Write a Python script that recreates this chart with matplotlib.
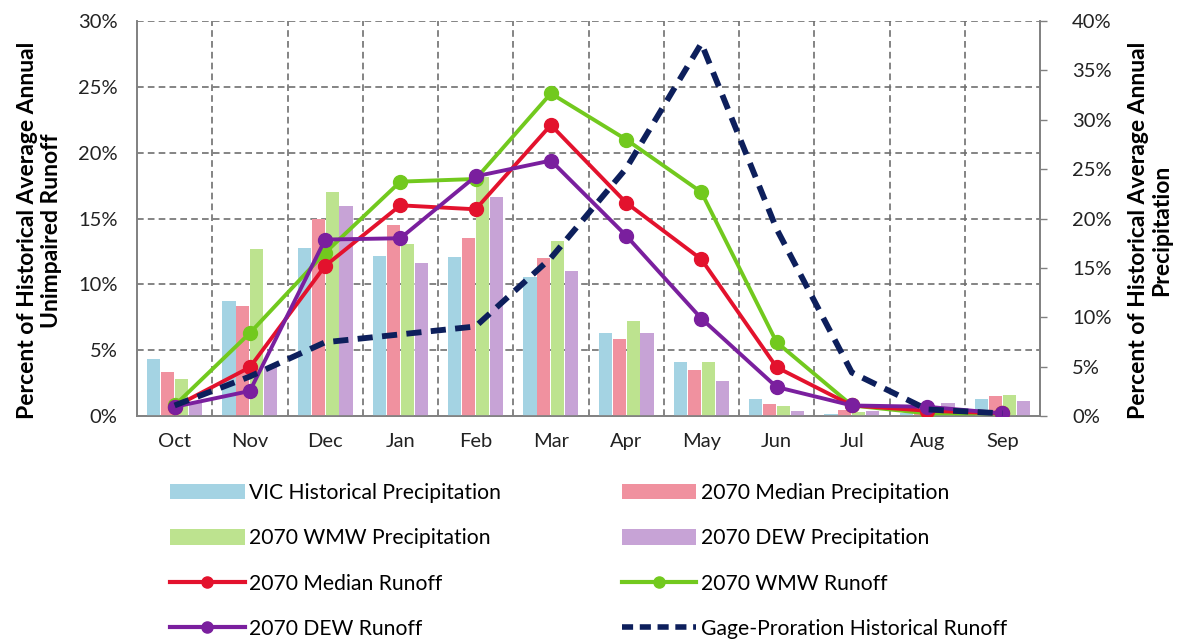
import matplotlib
matplotlib.use("Agg")
import matplotlib.pyplot as plt
import numpy as np
from matplotlib.ticker import FuncFormatter
from matplotlib.patches import Patch
from matplotlib.lines import Line2D
import matplotlib.transforms as mtransforms

months = ["Oct", "Nov", "Dec", "Jan", "Feb", "Mar", "Apr", "May", "Jun", "Jul", "Aug", "Sep"]

# Precipitation (% of historical average annual precipitation) - right axis
vic_hist_precip = [5.8, 11.6, 17.0, 16.2, 16.1, 14.1, 8.4, 5.5, 1.7, 0.2, 0.3, 1.7]
median_precip   = [4.5, 11.1, 20.0, 19.3, 18.0, 16.0, 7.8, 4.7, 1.2, 0.6, 0.5, 2.0]
wmw_precip      = [3.7, 16.9, 22.7, 17.4, 24.2, 17.7, 9.6, 5.5, 1.0, 0.4, 0.4, 2.1]
dew_precip      = [1.3, 5.0, 21.3, 15.5, 22.2, 14.7, 8.4, 3.5, 0.5, 0.5, 1.3, 1.5]

# Runoff (% of historical average annual unimpaired runoff) - left axis
median_runoff = [0.7, 3.7, 11.4, 16.0, 15.7, 22.1, 16.2, 11.9, 3.7, 0.8, 0.4, 0.2]
wmw_runoff    = [0.8, 6.3, 12.4, 17.8, 18.0, 24.5, 21.0, 17.0, 5.6, 0.8, 0.2, 0.2]
dew_runoff    = [0.7, 1.9, 13.4, 13.5, 18.2, 19.4, 13.7, 7.4, 2.2, 0.8, 0.7, 0.2]
gage_runoff   = [0.8, 3.0, 5.6, 6.2, 6.8, 12.0, 18.8, 28.3, 14.2, 3.3, 0.5, 0.2]

left_ticks = [0, 5, 10, 15, 20, 25, 30]
right_ticks = [0, 5, 10, 15, 20, 25, 30, 35, 40]

FONT = "Lato"
plt.rcParams["font.family"] = [FONT, "DejaVu Sans"]

fig = plt.figure(figsize=(11.87, 6.40), dpi=100)
L, R, T, B = 137, 1040, 21, 416
ax = fig.add_axes([L / 1187, 1 - B / 640, (R - L) / 1187, (B - T) / 640])
ax2 = ax.twinx()

x = np.arange(len(months))
bw = 0.175
step = 0.185
bar_cols = ["#a4d3e3", "#f0919f", "#bde38f", "#c7a3d6"]
bar_data = [vic_hist_precip, median_precip, wmw_precip, dew_precip]
bar_labels = ["VIC Historical Precipitation", "2070 Median Precipitation",
              "2070 WMW Precipitation", "2070 DEW Precipitation"]
for i, (d, c) in enumerate(zip(bar_data, bar_cols)):
    ax.bar(x + (i - 1.5) * step, d, width=bw, color=c, zorder=3)

ax.set_xlim(-0.5, len(months) - 0.5)
ax.set_ylim(0, 40)
ax2.set_ylim(0, 30)

# gridlines (behind bars), horizontal at left-axis ticks
grid_kw = dict(color="#707070", lw=1.2, ls=(0, (4, 2.5)), zorder=1)
tr = mtransforms.blended_transform_factory(ax.transAxes, ax2.transData)
for t in left_ticks[1:]:
    ax.plot([0, 1], [t, t], transform=tr, **grid_kw)
for b in np.arange(0.5, len(months) - 1, 1.0):
    ax.axvline(b, **grid_kw)

# right axis (precipitation) on ax
ax.yaxis.tick_right()
ax.yaxis.set_label_position("right")
ax.set_yticks(right_ticks)
ax.yaxis.set_major_formatter(FuncFormatter(lambda v, p: f"{v:.0f}%"))
ax.tick_params(axis="y", which="major", direction="out", length=5, width=1, color="#808080",
               labelsize=14.5, labelcolor="#222222", pad=18)
ax.set_xticks(x)
ax.set_xticklabels(months)
ax.tick_params(axis="x", length=0, labelsize=14.5, labelcolor="#222222", pad=12)

# left axis (runoff) on ax2
ax2.yaxis.tick_left()
ax2.yaxis.set_label_position("left")
ax2.set_yticks(left_ticks)
ax2.yaxis.set_major_formatter(FuncFormatter(lambda v, p: f"{v:.0f}%"))
ax2.tick_params(axis="y", length=0, labelsize=14.5, labelcolor="#222222", pad=14)

for a in (ax, ax2):
    a.spines["top"].set_visible(False)
    for s in ("left", "right", "bottom"):
        a.spines[s].set_color("#808080")
        a.spines[s].set_linewidth(1.2)

ax2.plot(x, gage_runoff, color="#0d1f5c", lw=4.2, ls=(0, (2.6, 1.6)), zorder=6,
         dash_capstyle="butt")
ax2.plot(x, wmw_runoff, color="#72c91e", lw=2.8, marker="o", ms=10, zorder=5)
ax2.plot(x, median_runoff, color="#e3122d", lw=2.8, marker="o", ms=10, zorder=5)
ax2.plot(x, dew_runoff, color="#7a1f9e", lw=2.8, marker="o", ms=10, zorder=5)

ax2.set_ylabel("Percent of Historical Average Annual\nUnimpaired Runoff", fontsize=16.5,
               fontweight="bold", linespacing=1.15)
ax2.yaxis.set_label_coords((62 - L) / (R - L), 0.47)
ax.set_ylabel("Percent of Historical Average Annual\nPrecipitation", fontsize=16.5,
              fontweight="bold", linespacing=1.15)
ax.yaxis.set_label_coords((1128 - L) / (R - L), 0.47)

# legend
h_bars = [Patch(facecolor=c, edgecolor="none") for c in bar_cols]
h_med = Line2D([], [], color="#e3122d", lw=3, marker="o", ms=8)
h_wmw = Line2D([], [], color="#72c91e", lw=3, marker="o", ms=8)
h_dew = Line2D([], [], color="#7a1f9e", lw=3, marker="o", ms=8)
h_gage = Line2D([], [], color="#0d1f5c", lw=4, ls=(0, (2.0, 1.2)))
handles = [h_bars[0], h_bars[2], h_med, h_dew, h_bars[1], h_bars[3], h_wmw, h_gage]
labels = [bar_labels[0], bar_labels[2], "2070 Median Runoff", "2070 DEW Runoff",
          bar_labels[1], bar_labels[3], "2070 WMW Runoff", "Gage-Proration Historical Runoff"]
fig.legend(handles, labels, ncol=2, loc="upper left", bbox_to_anchor=(170 / 1187, 1 - 483 / 640),
           frameon=False, fontsize=15.2, handlelength=3.55, handleheight=0.75, handletextpad=0.2,
           labelspacing=1.2, columnspacing=5.7, borderaxespad=0, borderpad=0)

fig.savefig("out.png", dpi=100)
